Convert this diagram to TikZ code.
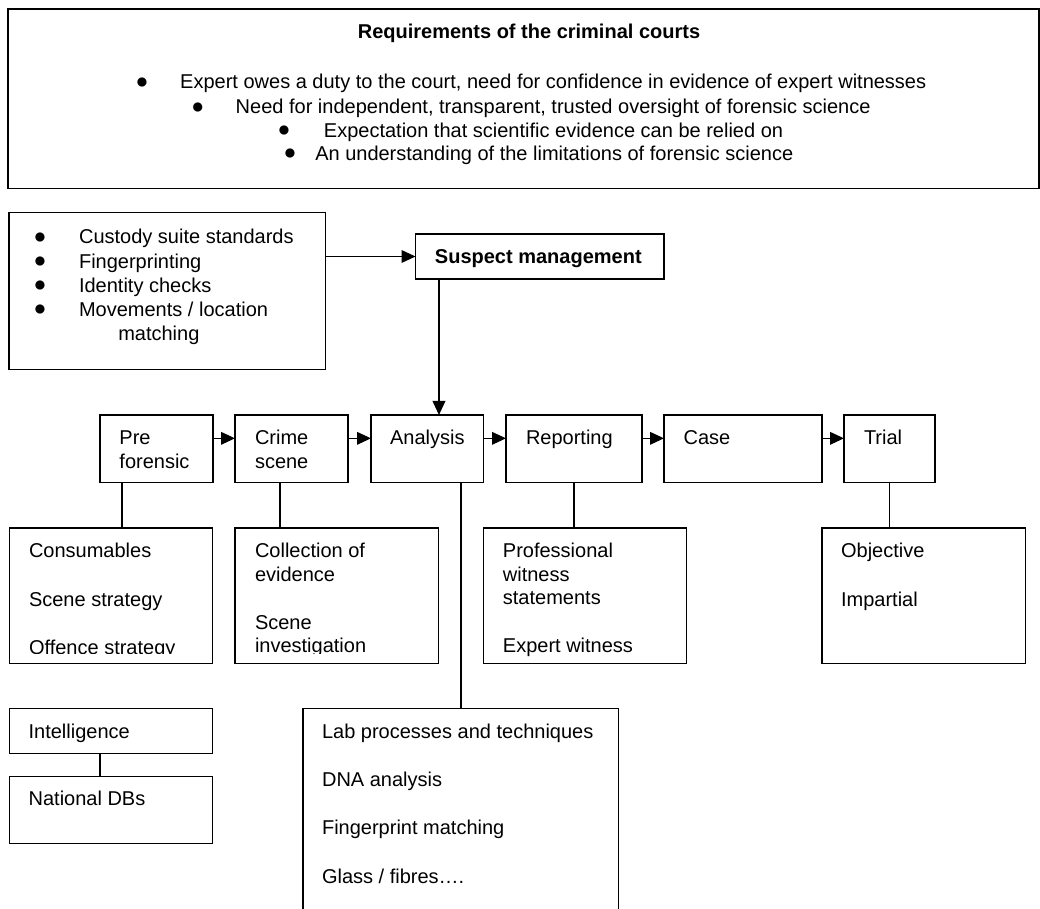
\documentclass[tikz,border=0pt]{standalone}
\usepackage{fontspec}
\setmainfont{Liberation Sans}
\usetikzlibrary{arrows.meta,fit}
\newcommand\lead{\rule{0pt}{22.3pt}}
\newcommand\blt[1]{\makebox[#1][l]{\raisebox{.6pt}{\fontsize{16}{16}\selectfont ●}}}

\begin{document}
\begin{tikzpicture}[x=.75pt,y=-.75pt,
 every node/.style={font=\fontsize{15}{17.5}\selectfont},
 panel/.style={draw,line width=1.1pt,inner sep=0pt,outer sep=0pt},
 txt/.style={anchor=north west,inner sep=0pt,outer sep=0pt,align=left},
 flow/.style={line width=1.1pt,-{Triangle[length=10.5pt,width=9.5pt]}},
 link/.style={line width=1.1pt}]
 \useasboundingbox (0,0) rectangle (1040,909);
 \clip (0,0) rectangle (1040,909);
 \fill[white] (0,0) rectangle (1040,909);

 % requirements of the courts
 \node[panel,fit={(8,9)(1039,188.5)}] (courts) {};
 \node[anchor=base,inner sep=0pt] (courtstitle) at (529,38.9)
  {\textbf{Requirements of the criminal courts}};
 \foreach \n/\x/\y/\w/\t in {
  1/135.3/88.9/33.5pt/{Expert owes a duty to the court, need for confidence in evidence of expert witnesses},
  2/191.2/113.9/33.2pt/{Need for independent, transparent, trusted oversight of forensic science},
  3/277.4/137.2/34.7pt/{Expectation that scientific evidence can be relied on},
  4/283.4/160.2/23.7pt/{An understanding of the limitations of forensic science}}
  \node[anchor=base west,inner sep=0pt] (req\n) at (\x,\y) {\blt{\w}\t};

 % suspect management
 \node[panel,fit={(9,212.7)(325.5,369.3)}] (custody) {};
 \node[txt,font=\fontsize{15}{18.1}\selectfont] (custodytext) at (33.6,214.2)
  {\lead\blt{34.1pt}Custody suite standards\\
   \blt{34.1pt}Fingerprinting\\
   \blt{34.1pt}Identity checks\\
   \blt{34.1pt}Movements / location\\
   \hspace*{63.5pt}matching};
 \node[panel,fit={(415.5,234)(664,279)}] (suspect) {};
 \node[txt] (suspecttext) at ([xshift=14.6pt]suspect.north west)
  {\lead\textbf{Suspect management}};

 % process chain
 \foreach \n/\l/\r in {pre/100/212.8,crime/235/348,analysis/371/483.7,
   reporting/506/641.8,case/664/822,trial/844/935}
  \node[panel,fit={(\l,415)(\r,482.7)}] (\n) {};
 \node[txt] (pretext) at ([xshift=14.6pt]pre.north west) {\lead Pre\\forensic};
 \node[txt] (crimetext) at ([xshift=15pt]crime.north west) {\lead Crime\\scene};
 \node[txt] (analysistext) at ([xshift=14.3pt]analysis.north west) {\lead Analysis};
 \node[txt] (reportingtext) at ([xshift=15pt]reporting.north west) {\lead Reporting};
 \node[txt] (casetext) at ([xshift=14.7pt]case.north west) {\lead Case};
 \node[txt] (trialtext) at ([xshift=15pt]trial.north west) {\lead Trial};

 % detail boxes
 \node[panel,fit={(9.3,528)(212.7,663.3)}] (preitems) {};
 \node[panel,fit={(235,528)(438.6,663.3)}] (crimeitems) {};
 \node[panel,fit={(483.6,528)(686.4,663.3)}] (repitems) {};
 \node[panel,fit={(822,528)(1025.7,663.3)}] (trialitems) {};
 \node[panel,fit={(9.3,708.3)(212.5,753.3)}] (intel) {};
 \node[panel,fit={(9.3,776.7)(212.5,843.3)}] (natdb) {};
 \node[panel,fit={(303,708.3)(618.7,930)}] (labitems) {};

 \begin{scope}
  \clip (preitems.north west) rectangle ([yshift=7.5pt]preitems.south east);
  \node[txt] (preitemstext) at ([xshift=14.8pt]preitems.north west)
   {\lead Consumables\\[18.75pt]Scene strategy\\[18.75pt]Offence strategy};
 \end{scope}
 \begin{scope}
  \clip (crimeitems.north west) rectangle ([yshift=7.5pt]crimeitems.south east);
  \node[txt] (crimeitemstext) at ([xshift=15pt]crimeitems.north west)
   {\lead Collection of\\evidence\\[18.75pt]Scene\\investigation};
 \end{scope}
 \node[txt] (repitemstext) at ([xshift=14.5pt]repitems.north west)
  {\lead Professional\\witness\\statements\\[18.75pt]Expert witness};
 \node[txt] (trialitemstext) at ([xshift=14.3pt]trialitems.north west)
  {\lead Objective\\[18.75pt]Impartial};
 \node[txt] (inteltext) at ([xshift=14.5pt]intel.north west) {\lead Intelligence};
 \node[txt] (natdbtext) at ([xshift=14.5pt,yshift=.8pt]natdb.north west) {\lead National DBs};
 \node[txt] (labitemstext) at ([xshift=14.3pt]labitems.north west)
  {\lead Lab processes and techniques\\[18.75pt]DNA analysis\\[18.75pt]%
   Fingerprint matching\\[18.75pt]Glass / fibres….};

 % connectors
 \draw[flow] (custody.east |- suspect.west) -- (suspect.west);
 \draw[flow] ([xshift=17.6pt]suspect.south west)
  -- ([xshift=17.6pt]suspect.south west |- analysis.north);
 \foreach \a/\b in {pre/crime,crime/analysis,analysis/reporting,reporting/case,case/trial}
  \draw[flow] ([yshift=-17.5pt]\a.north east) -- ([yshift=-17.5pt]\a.north east -| \b.west);
 \draw[link] ([xshift=16.5pt]pre.south west) -- ([xshift=16.5pt]pre.south west |- preitems.north);
 \draw[link] ([xshift=33.8pt]crime.south west) -- ([xshift=33.8pt]crime.south west |- crimeitems.north);
 \draw[link] ([xshift=67.5pt]analysis.south west) -- ([xshift=67.5pt]analysis.south west |- labitems.north);
 \draw[link] (reporting.south) -- (reporting.south |- repitems.north);
 \draw[link] (trial.south) -- (trial.south |- trialitems.north);
 \draw[link] ([xshift=68pt]intel.south west) -- ([xshift=68pt]intel.south west |- natdb.north);
\end{tikzpicture}
\end{document}
